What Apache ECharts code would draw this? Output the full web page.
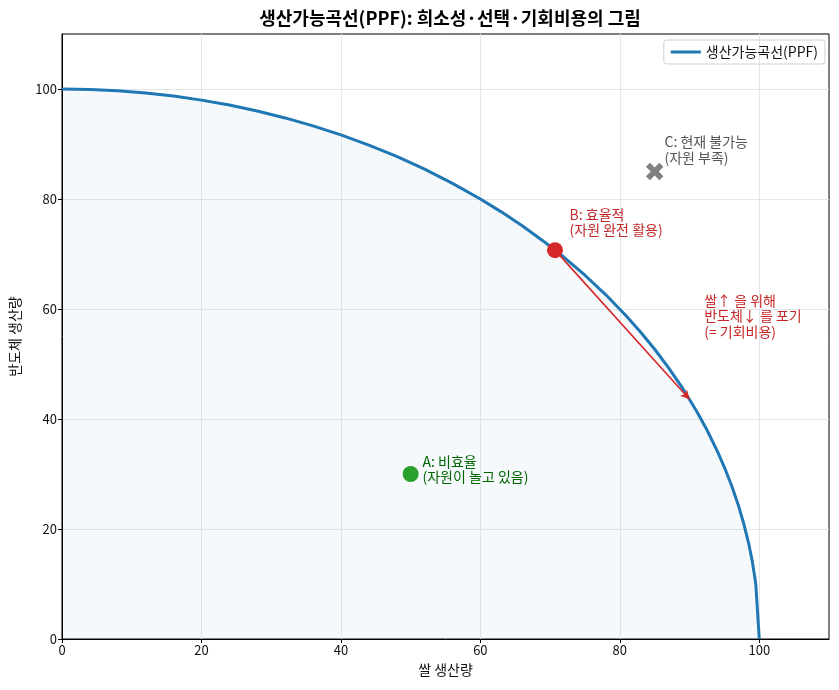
<!DOCTYPE html>
<html>
<head>
<meta charset="utf-8">
<script src="https://cdn.jsdelivr.net/npm/echarts@6/dist/echarts.min.js"></script>
<style>
  html, body { margin: 0; padding: 0; background: #fff; }
  #main { width: 839px; height: 690px; }
</style>
</head>
<body>
<div id="main"></div>
<script>
const FONT = "Noto Sans CJK KR";

// PPF curve (rice, chips)
const riceOutput = [0, 4, 8, 12, 16, 20, 24, 28, 32, 36, 40, 44, 48, 52, 56, 60, 63, 66, 69, 72, 75, 78, 81, 83, 85, 87, 89, 91, 92.5, 94, 95, 96, 97, 97.8, 98.5, 99, 99.5, 100];
const chipOutput = [100, 99.92, 99.68, 99.28, 98.71, 97.98, 97.08, 96.0, 94.74, 93.3, 91.65, 89.8, 87.73, 85.42, 82.85, 80, 77.66, 75.13, 72.38, 69.4, 66.14, 62.58, 58.64, 55.78, 52.68, 49.31, 45.6, 41.46, 38.0, 34.12, 31.22, 28.0, 24.31, 20.86, 17.26, 14.11, 9.99, 0];

const pointA = [50, 30];
const pointB = [70.7, 70.7];
const pointC = [85, 85];
const arrowEnd = [90, 43.6];

const tickValues = [0, 20, 40, 60, 80, 100];

// text blocks: [x, y, text]
const labelA = [51.7, 30.9, "A: 비효율\n(자원이 놀고 있음)"];
const labelB = [72.8, 75.8, "B: 효율적\n(자원 완전 활용)"];
const labelC = [86.4, 89.0, "C: 현재 불가능\n(자원 부족)"];
const labelCost = [92.1, 58.7, "쌀↑ 을 위해\n반도체↓ 를 포기\n(= 기회비용)"];

const chart = echarts.init(document.getElementById("main"));

const curve = riceOutput.map((x, i) => [x, chipOutput[i]]);

function textSeries(lbl, color) {
  return {
    type: "scatter",
    data: [[lbl[0], lbl[1]]],
    symbolSize: 1,
    itemStyle: { color: "rgba(0,0,0,0)", opacity: 1 },
    silent: true,
    z: 5,
    label: {
      show: true,
      position: "inside",
      align: "left",
      verticalAlign: "middle",
      formatter: lbl[2],
      color: color,
      fontFamily: FONT,
      fontSize: 14,
      lineHeight: 15.5,
    },
  };
}

const axisCommon = {
  type: "value",
  min: 0,
  max: 110,
  interval: 20,
  axisLine: { show: true, lineStyle: { color: "#000", width: 1 } },
  axisTick: { show: true, inside: false, length: 4, lineStyle: { color: "#000" }, customValues: tickValues },
  axisLabel: { color: "#111", fontSize: 13, fontFamily: FONT, margin: 5, customValues: tickValues },
  splitLine: { show: true, lineStyle: { color: "#e3e6ea", width: 1 } },
  nameLocation: "middle",
  nameTextStyle: { color: "#111", fontSize: 14, fontFamily: FONT },
};

const option = {
  animation: false,
  textStyle: { fontFamily: FONT },
  title: {
    text: "생산가능곡선(PPF): 희소성·선택·기회비용의 그림",
    left: 445,
    top: 4,
    textAlign: "center",
    textStyle: { fontFamily: FONT, fontSize: 18, fontWeight: "bold", color: "#000" },
  },
  grid: {
    left: 61, right: 10, top: 34, bottom: 51,
    show: true, borderColor: "#000", borderWidth: 1,
  },
  legend: {
    right: 14, top: 40,
    data: [{ name: "생산가능곡선(PPF)", icon: "rect" }],
    itemWidth: 30, itemHeight: 3,
    itemGap: 10,
    borderColor: "#d0d0d0", borderWidth: 1, borderRadius: 3,
    padding: [5, 7, 5, 7],
    textStyle: { fontFamily: FONT, fontSize: 14, color: "#111" },
  },
  xAxis: Object.assign({}, axisCommon, { name: "쌀 생산량", nameGap: 24 }),
  yAxis: Object.assign({}, axisCommon, { name: "반도체 생산량", nameGap: 40 }),
  series: [
    {
      name: "생산가능곡선(PPF)",
      type: "line",
      data: curve,
      showSymbol: false,
      symbol: "none",
      smooth: false,
      lineStyle: { color: "#1f77b4", width: 3 },
      itemStyle: { color: "#1f77b4" },
      areaStyle: { color: "rgba(31,119,180,0.06)", origin: "start" },
      z: 3,
      markLine: {
        silent: true,
        symbol: ["none", "arrow"],
        symbolSize: [7, 9],
        label: { show: false },
        lineStyle: { color: "#d62728", width: 1.6, type: "solid" },
        data: [[{ coord: pointB }, { coord: arrowEnd }]],
      },
    },
    {
      type: "scatter",
      data: [pointA],
      symbol: "circle",
      symbolSize: 16,
      itemStyle: { color: "#2ca02c", opacity: 1 },
      z: 4,
    },
    {
      type: "scatter",
      data: [pointB],
      symbol: "circle",
      symbolSize: 16,
      itemStyle: { color: "#d62728", opacity: 1 },
      z: 4,
    },
    {
      type: "scatter",
      data: [pointC],
      symbol: "path://M3.5,0H6.5V3.5H10V6.5H6.5V10H3.5V6.5H0V3.5H3.5Z",
      symbolRotate: 45,
      symbolSize: 19,
      itemStyle: { color: "#808080", opacity: 1 },
      z: 4,
    },
    textSeries(labelA, "#006400"),
    textSeries(labelB, "#c0282a"),
    textSeries(labelC, "#555555"),
    textSeries(labelCost, "#c62828"),
  ],
};

chart.setOption(option);
</script>
</body>
</html>
